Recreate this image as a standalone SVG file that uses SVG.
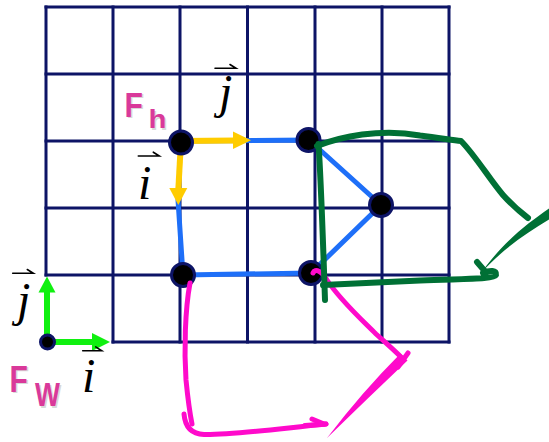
<svg xmlns="http://www.w3.org/2000/svg" width="549" height="442" viewBox="0 0 549 442">
<style>
.grid{stroke:#0d1466;stroke-width:3;fill:none;stroke-linecap:square}
.node{fill:#000;stroke:#0d1466;stroke-width:3}
.blue{stroke:#1e6ff8;stroke-width:5;fill:none;stroke-linecap:round;stroke-linejoin:round}
.yel{stroke:#ffcc00;stroke-width:6;fill:none}
.yelh{fill:#ffcc00}
.grn{stroke:#10f010;stroke-width:6;fill:none}
.grnh{fill:#10f010}
.pink{stroke:#ff0acb;stroke-width:5;fill:none;stroke-linecap:round;stroke-linejoin:round}
.pinkf{fill:#ff0acb}
.dg{stroke:#007035;stroke-width:6;fill:none;stroke-linecap:round;stroke-linejoin:round}
.dgf{fill:#007035}
.vec{font-family:"Liberation Serif","Times New Roman",serif;font-style:italic;font-size:48px;fill:#000}
.harp{stroke:#000;stroke-width:1.6;fill:none;stroke-linecap:round}
.lab{font-family:"Liberation Sans",Arial,sans-serif;font-weight:bold;fill:#d9399a}
.shd{font-family:"Liberation Sans",Arial,sans-serif;font-weight:bold;fill:#000;opacity:0.15}
</style>
<rect width="549" height="442" fill="#fff"/>
<g id="grid" class="grid">
<line x1="46" y1="7" x2="449" y2="7"/>
<line x1="46" y1="74" x2="449" y2="74"/>
<line x1="46" y1="141" x2="449" y2="141"/>
<line x1="46" y1="208" x2="449" y2="208"/>
<line x1="46" y1="275" x2="449" y2="275"/>
<line x1="113" y1="342" x2="449" y2="342"/>
<line x1="46" y1="7" x2="46" y2="275"/>
<line x1="113" y1="7" x2="113" y2="342"/>
<line x1="180" y1="7" x2="180" y2="342"/>
<line x1="247.5" y1="7" x2="247.5" y2="342"/>
<line x1="315" y1="7" x2="315" y2="342"/>
<line x1="382" y1="7" x2="382" y2="342"/>
<line x1="449" y1="7" x2="449" y2="342"/>
</g>
<g id="connectors">
<path class="blue" d="M181,141 L309,140 L381,205 L311,273 L183,275 L178,200"/>
<line class="yel" x1="181" y1="141" x2="235" y2="140.5"/>
<polygon class="yelh" points="233,131.5 251,140.3 233,149"/>
<line class="yel" x1="180.5" y1="150" x2="178.3" y2="190"/>
<polygon class="yelh" points="169.3,188 178.3,205 187.3,188"/>
<line class="grn" x1="47" y1="342" x2="47" y2="290"/>
<polygon class="grnh" points="38.5,292.5 47,276.5 55.5,292.5"/>
<line class="grn" x1="47" y1="342" x2="94" y2="342"/>
<polygon class="grnh" points="92,333 110,342 92,351"/>
</g>
<g id="nodes">
<circle id="n1" class="node" cx="181" cy="142.5" r="11.5"/>
<circle id="n2" class="node" cx="308.5" cy="140" r="11.5"/>
<circle id="n3" class="node" cx="381" cy="205" r="11.5"/>
<circle id="n4" class="node" cx="183" cy="275" r="11.5"/>
<circle id="n5" class="node" cx="311" cy="273" r="11.5"/>
<circle id="origin" class="node" cx="47.5" cy="342" r="7"/>
</g>
<g id="pink-strokes">
<path class="pink" d="M190,283 C 185,310 184,350 186,380 C 188,400 190,414 192,424"/>
<path class="pink" d="M184,414 C 185,426 191,434 204,434.5 C 232,435 280,428.5 326,424"/>
<line class="pink" x1="312" y1="419" x2="324" y2="424" stroke-width="7"/>
<line class="pink" x1="305" y1="425.5" x2="326" y2="424" stroke-width="7"/>
<path class="pink" d="M313,273 C 315,268 322,271 327,280 C 340,300 360,318 376,334 C 386,343 394,350 401,357"/>
<path class="pinkf" d="M400.5,353.5 Q 362,392 327,438 Q 368,398 407.5,360.5 Z"/>
<line class="pink" x1="408" y1="353" x2="398" y2="367" stroke-width="7"/>
</g>
<g id="green-strokes">
<path class="dg" d="M318.5,144 C 321,180 323,240 325,300"/>
<path class="dg" d="M317,146 C 340,137 380,128 420,135.5 C 440,138 452,140 461,141 C 475,155 490,180 503,195 C 512,205 520,212 528,218" stroke-width="5.5"/>
<path class="dgf" d="M549,208.5 C 527,224 505,240 480.5,273.5 C 503,249 525,234 549,219.5 Z"/>
<line class="dg" x1="477" y1="262" x2="486" y2="272.5" stroke-width="4"/>
<path class="dg" d="M483,273 C 490,270 497,270 496,275 C 494,279 470,278.5 420,280.5 L 323,285"/>
</g>
<g id="labels">
<text class="shd" transform="translate(126,118.2) scale(0.86,1)" font-size="35">F</text>
<text class="lab" transform="translate(124.5,116.7) scale(0.86,1)" font-size="35">F</text>
<text class="shd" transform="translate(150,129.8) scale(1.15,1)" font-size="25.5">h</text>
<text class="lab" transform="translate(148.5,128.3) scale(1.15,1)" font-size="25.5">h</text>
<text class="shd" transform="translate(11,393.2) scale(0.81,1)" font-size="37">F</text>
<text class="lab" transform="translate(9.5,391.7) scale(0.81,1)" font-size="37">F</text>
<text class="shd" transform="translate(36.5,407.5) scale(0.8,1)" font-size="33">W</text>
<text class="lab" transform="translate(35,406) scale(0.8,1)" font-size="33">W</text>
<text class="vec" x="219" y="108">j</text>
<path class="harp" d="M215,68.3 H236 L230,64.5"/>
<text class="vec" x="138" y="199">i</text>
<path class="harp" d="M138.3,156 H159.3 L153.3,152.2"/>
<text class="vec" x="17" y="316">j</text>
<path class="harp" d="M12.7,273.3 H33.3 L27.3,269.5"/>
<text class="vec" x="82" y="392">i</text>
<path class="harp" d="M82.7,350.7 H101.7 L95.7,346.9"/>
</g>
</svg>
